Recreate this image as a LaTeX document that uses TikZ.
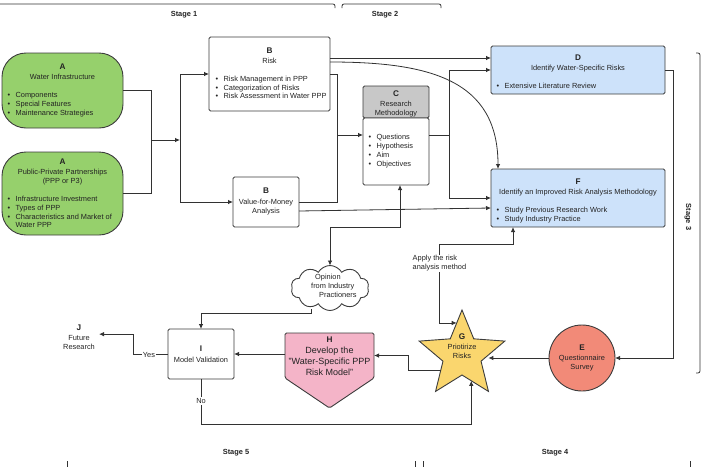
\documentclass[tikz,border=0pt]{standalone}
\usepackage{fontspec}
\setmainfont{Liberation Sans}
\usetikzlibrary{arrows.meta,shapes.geometric,shapes.symbols,calc}
\definecolor{lc}{RGB}{50,50,50}
\definecolor{bc}{RGB}{60,60,60}
\definecolor{tc}{RGB}{35,35,35}
\definecolor{gfill}{RGB}{150,208,108}
\definecolor{bfill}{RGB}{205,226,250}
\definecolor{cfill}{RGB}{200,200,200}
\definecolor{efill}{RGB}{242,138,120}
\definecolor{yfill}{RGB}{250,214,110}
\definecolor{pfill}{RGB}{244,180,200}
\newcommand\HdL[1]{{\fontsize{8.2}{9}\selectfont\bfseries #1}}
\newcommand\Bul{\textbullet\hspace{5.3pt}}
\newcommand\BulSp{\phantom{\textbullet}\hspace{5.3pt}}
\begin{document}
\begin{tikzpicture}[x=1pt,y=-1pt,
  ln/.style={draw=lc, line width=0.8pt},
  arr/.style={ln, -{Latex[length=5pt,width=4.5pt]}},
  arrb/.style={ln, {Latex[length=5pt,width=4.5pt]}-{Latex[length=5pt,width=4.5pt]}},
  box/.style={draw=bc, line width=0.9pt, rounded corners=1.5pt, inner sep=0pt, outer sep=0pt, fill=white},
  gbox/.style={box, fill=gfill, rounded corners=24pt},
  bbox/.style={box, fill=bfill},
  tx/.style={font=\fontsize{7.4}{9}\selectfont, inner sep=0pt, text=tc},
  hd/.style={tx, align=center, anchor=north},
  bl/.style={tx, align=left, anchor=north west},
  stg/.style={font=\fontsize{7.4}{9}\selectfont\bfseries, inner sep=0pt, text=tc},
  brk/.style={draw=lc, line width=0.8pt, rounded corners=2pt}
]
\useasboundingbox (0,0) rectangle (708,466);

% ---------- stage brackets ----------
\draw[brk] (-2,4) -- (335,4) -- (335,8);
\draw[brk] (342,8) -- (342,4) -- (441,4) -- (441,8);
\draw[brk] (696,53) -- (700,53) -- (700,373) -- (696,373);
\draw[brk] (67,461) -- (67,468);
\draw[brk] (415,461) -- (415,468);
\draw[brk] (423,461) -- (423,468);
\draw[brk] (690,461) -- (690,468);
\node[stg] (s1) at (184,15) {Stage 1};
\node[stg] (s2) at (385,15) {Stage 2};
\node[stg, rotate=-90] (s3) at (688,217) {Stage 3};
\node[stg] (s5) at (236,453) {Stage 5};
\node[stg] (s4) at (555,453) {Stage 4};

% ---------- boxes ----------
\node[gbox, minimum width=121, minimum height=75] (A1) at (62.5,90.5) {};
\node[gbox, minimum width=121, minimum height=83] (A2) at (62.5,193.5) {};
\node[box, minimum width=121, minimum height=74] (BR) at (269.5,74) {};
\node[box, minimum width=66, minimum height=50] (BV) at (266,202) {};
\node[box, fill=cfill, minimum width=66, minimum height=32] (Ch) at (396,102) {};
\node[box, minimum width=66, minimum height=67] (Cb) at (396,151.5) {};
\node[bbox, minimum width=174, minimum height=48] (D) at (578,70) {};
\node[bbox, minimum width=174, minimum height=58] (F) at (578,198) {};
\node[circle, draw=bc, line width=0.9pt, fill=efill, minimum size=66, inner sep=0pt, outer sep=0pt] (E) at (582,358) {};
\node[star, star points=5, star point ratio=2.25, minimum size=90, draw=bc, line width=0.9pt, fill=yfill, inner sep=0pt, outer sep=0pt] (G) at (462,355) {};
\node[minimum width=89, minimum height=75, inner sep=0pt, outer sep=0pt] (H) at (329.5,370.5) {};
\draw[draw=bc, line width=0.9pt, fill=pfill, rounded corners=1.5pt]
  (H.north west) -- (H.north east) -- ([yshift=-45pt]H.north east) -- (H.south) -- ([yshift=-45pt]H.north west) -- cycle;
\node[box, minimum width=66, minimum height=50] (I) at (201,354) {};
\node[cloud, cloud puffs=10, cloud puff arc=120, aspect=1.6, draw=bc, line width=0.9pt, fill=white, minimum width=78, minimum height=45, inner sep=0pt, outer sep=0pt] (K) at (330,288) {};

% ---------- texts ----------
\node[hd] (A1t) at (62.5,64.1) {\HdL{A}\\[1pt]Water Infrastructure};
\node[bl] (A1l) at (7.5,92.3) {\Bul Components\\\Bul Special Features\\\Bul Maintenance Strategies};
\node[hd] (A2t) at (62.5,159.1) {\HdL{A}\\[1pt]Public-Private Partnerships\\(PPP or P3)};
\node[bl, font=\fontsize{7.4}{8.7}\selectfont] (A2l) at (7.5,196.3) {\Bul Infrastructure Investment\\\Bul Types of PPP\\\Bul Characteristics and Market of\\\BulSp Water PPP};
\node[hd] (BRt) at (269.5,48.1) {\HdL{B}\\[1pt]Risk};
\node[bl, font=\fontsize{7.4}{8.5}\selectfont] (BRl) at (215.5,76.3) {\Bul Risk Management in PPP\\\Bul Categorization of Risks\\\Bul Risk Assessment in Water PPP};
\node[hd] (BVt) at (266,188.1) {\HdL{B}\\[2pt]Value-for-Money\\Analysis};
\node[hd] (Cht) at (396,90.1) {\HdL{C}\\[1pt]Research\\Methodology};
\node[bl] (Cbl) at (368.5,134.3) {\Bul Questions\\\Bul Hypothesis\\\Bul Aim\\\Bul Objectives};
\node[hd] (Dt) at (578,55.1) {\HdL{D}\\[1pt]Identify Water-Specific Risks};
\node[bl] (Dl) at (496.5,83.3) {\Bul Extensive Literature Review};
\node[hd] (Ft) at (578,179.1) {\HdL{F}\\[1pt]Identify an Improved Risk Analysis Methodology};
\node[bl] (Fl) at (496.5,207.3) {\Bul Study Previous Research Work\\\Bul Study Industry Practice};
\node[hd] (Et) at (582,345.1) {\HdL{E}\\[1pt]Questionnaire\\Survey};
\node[hd, font=\fontsize{7.4}{8.5}\selectfont] (Gt) at (462,333.1) {\HdL{G}\\[2pt]Priotirize\\Risks};
\node[hd, font=\fontsize{9}{11}\selectfont] (Ht) at (329.5,337) {{\fontsize{8.2}{9}\selectfont\bfseries H}\\Develop the\\"Water-Specific PPP\\Risk Model"};
\node[hd] (It) at (201,346.1) {\HdL{I}\\[2pt]Model Validation};
\node[hd] (J) at (79,325.1) {\HdL{J}\\[1pt]Future\\Research};
\node[tx, align=left, anchor=north west] (Kt) at (311,274) {\hspace{4pt}Opinion\\from Industry\\\hspace{8pt}Practioners};

% ---------- helper coordinates ----------
\coordinate (j1) at (151,140);
\coordinate (j2) at (180,140);
\coordinate (j3) at (337,135);
\coordinate (j4) at (449,135);
\coordinate (r1) at ([yshift=-21pt]BR.north east);
\coordinate (r2) at ([yshift=-25pt]BR.north east);
\coordinate (f1) at ([xshift=7pt]F.north west);
\coordinate (f2) at ([xshift=-65pt]F.south);
\coordinate (n4) at (0,244);
\coordinate (n5) at (439,0);
\coordinate (g3) at ($(G.outer point 1)!0.45!(G.inner point 1)$);
\coordinate (g1) at ($(G.inner point 2)!0.3!(G.outer point 3)$);
\coordinate (n6) at (408,0);
\coordinate (h1) at ([yshift=15pt]H.east);
\coordinate (n7) at (673,0);
\coordinate (g2) at ($(G.inner point 3)!0.35!(G.outer point 4)$);
\coordinate (n1) at (0,424);
\coordinate (y1) at (133,0);
\coordinate (jt) at ([xshift=4pt,yshift=3.5pt]J.east);
\coordinate (c1) at ([xshift=4pt]Cb.south);
\coordinate (n3) at (0,227);
\coordinate (k2) at ([xshift=-19pt,yshift=1.5pt]K.south);
\coordinate (n2) at (0,313);

% ---------- connectors ----------
\draw[ln] (A1.east) -| (j1);
\draw[ln] (A2.east) -| (j1);
\draw[arr] (j1) -- (j2);
\draw[arr] (j2) |- (BR.west);
\draw[arr] (j2) |- (BV.west);
\draw[ln] (BR.east) -| (j3);
\draw[ln] (BV.east) -| (j3);
\draw[arr] (j3) -- (j3 -| Cb.west);
\draw[arr] (r1) -- (r1 -| D.west);
\draw[arr] (r2) .. controls (430,62) and (498,80) .. (f1);
\draw[ln] (Cb.east |- j4) -- (j4);
\draw[arr] (j4) |- (D.west);
\draw[arr] (j4) |- (F.west);
\draw[arr] ([yshift=-9pt]BV.east) -- ([yshift=-10pt]F.west);
\draw[arr] (D.east) -- (D.east -| n7) |- (E.east);
\draw[arr] (E.west) -- (E.west -| G.east);
\draw[arrb] (f2) -- (f2 |- n4) -| (n5 |- g3) -- (g3);
\node[tx, align=left, anchor=north west, fill=white, inner sep=0.5pt] (apl) at (412,254.5) {Apply the risk\\analysis method};
\draw[arr] (g1) -- (g1 -| n6) |- (h1);
\draw[arr] (I.east -| H.west) -- (I.east);
\draw[arr] (I.west) -- (I.west -| y1) |- (jt);
\node[tx, fill=white, inner sep=0.8pt] (yes) at (149,354.5) {Yes};
\draw[arr] (I.south) -- (I.south |- n1) -| (g2);
\node[tx, fill=white, inner sep=1pt] (no) at (201,401) {No};
\draw[arrb] (c1) -- (c1 |- n3) -| (K.north);
\draw[arr] (k2) -- (k2 |- n2) -| (I.north);
\end{tikzpicture}
\end{document}
